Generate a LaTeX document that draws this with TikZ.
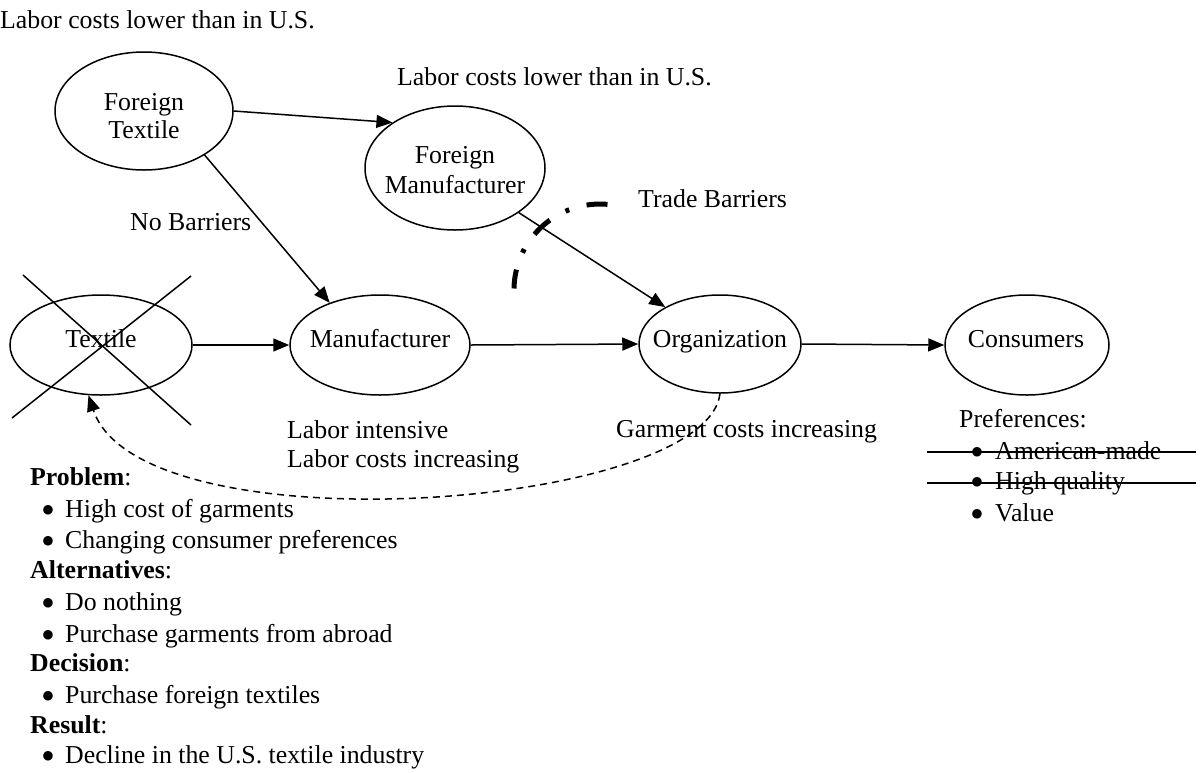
\documentclass[tikz,border=0pt]{standalone}
\usepackage{fontspec}
\setmainfont{Liberation Serif}
\newfontfamily\symfnt{DejaVu Sans}
\usetikzlibrary{arrows.meta,shapes.geometric}
\begin{document}
\begin{tikzpicture}[x=1pt,y=-1pt,
  every node/.style={font=\fontsize{25.8pt}{31pt}\selectfont},
  ell/.style={draw, ellipse, line width=1.5pt, inner sep=0pt},
  lbl/.style={inner sep=0pt, anchor=base},
  lblw/.style={inner sep=0pt, anchor=base west},
  bul/.style={inner sep=0pt, anchor=base, font=\symfnt\fontsize{12.5pt}{12.5pt}\selectfont},
  conn/.style={line width=1.5pt, -{Triangle[length=16pt,width=13pt]}},
  back/.style={line width=1.5pt, dash pattern=on 7pt off 5pt, -{Triangle[length=16pt,width=13pt]}},
  cross/.style={line width=1.5pt},
  barrier/.style={line width=5pt, dash pattern=on 21pt off 18pt on 4pt off 18pt},
  strike/.style={line width=1.5pt}]
\useasboundingbox (0,0) rectangle (1201,772);
\fill[white] (0,0) rectangle (1201,772);
\newcommand{\bulglyph}{\raisebox{3.8pt}{●}}

% ellipses
\node[ell, minimum width=178pt, minimum height=118pt] (ft) at (144,111) {};
\node[ell, minimum width=180pt, minimum height=124pt] (fm) at (455,168) {};
\node[ell, minimum width=182pt, minimum height=100pt] (tx) at (101,345) {};
\node[ell, minimum width=180pt, minimum height=100pt] (mf) at (380,345) {};
\node[ell, minimum width=162pt, minimum height=98pt] (org) at (720,344) {};
\node[ell, minimum width=164pt, minimum height=100pt] (cons) at (1027,345) {};

% ellipse texts
\node[lbl] (ftA) at (144,110) {Foreign};
\node[lbl] (ftB) at (144,138) {Textile};
\node[lbl] (fmA) at (455,163) {Foreign};
\node[lbl] (fmB) at (455,193) {Manufacturer};
\node[lbl] (txT) at (101,347) {Textile};
\node[lbl] (mfT) at (380,347) {Manufacturer};
\node[lbl] (orgT) at (720,347) {Organization};
\node[lbl] (consT) at (1026,347) {Consumers};

% cross over Textile
\draw[cross] (23,275) -- (191,425);
\draw[cross] (12,418) -- (191,276);

% connectors
\draw[conn] (ft.east) -- (fm.144);
\draw[conn] (ft.-36) -- (mf.140);
\draw[conn] (fm.-35) -- (org.146);
\draw[conn] (tx.east) -- (mf.west);
\draw[conn] (mf.east) -- (org.west);
\draw[conn] (org.east) -- (cons.west);
\draw[back] (org.south) .. controls (705,510) and (140,550) .. (tx.-104);

% trade barrier arc
\draw[barrier] (600,290) ++(275:86) arc[start angle=275, end angle=181, radius=86];

% labels
\node[lblw] (l1) at (0,28) {Labor costs lower than in U.S.};
\node[lblw] (l2) at (397,85) {Labor costs lower than in U.S.};
\node[lblw] (nb) at (130,230) {No Barriers};
\node[lblw] (tb) at (638,207) {Trade Barriers};
\node[lblw] (li) at (287,438) {Labor intensive};
\node[lblw] (lc) at (287,467) {Labor costs increasing};
\node[lblw] (gc) at (616,437) {Garment costs increasing};

% preferences
\node[lblw] (pr) at (959,427) {Preferences:};
\node[bul] (pb1) at (977,459) {\bulglyph};
\node[lblw] (p1) at (995,459) {American-made};
\node[bul] (pb2) at (977,489) {\bulglyph};
\node[lblw] (p2) at (995,489) {High quality};
\node[bul] (pb3) at (977,521) {\bulglyph};
\node[lblw] (p3) at (995,521) {Value};
\draw[strike] (927,452) -- (1196,452);
\draw[strike] (927,483) -- (1196,483);

% left list
\node[lblw] (h1) at (30,485) {\textbf{Problem}:};
\node[bul] (b1) at (48,517) {\bulglyph};
\node[lblw] (t1) at (65,517) {High cost of garments};
\node[bul] (b2) at (48,548) {\bulglyph};
\node[lblw] (t2) at (65,548) {Changing consumer preferences};
\node[lblw] (h2) at (30,578) {\textbf{Alternatives}:};
\node[bul] (b3) at (48,610) {\bulglyph};
\node[lblw] (t3) at (65,610) {Do nothing};
\node[bul] (b4) at (48,642) {\bulglyph};
\node[lblw] (t4) at (65,642) {Purchase garments from abroad};
\node[lblw] (h3) at (30,671) {\textbf{Decision}:};
\node[bul] (b5) at (48,703) {\bulglyph};
\node[lblw] (t5) at (65,703) {Purchase foreign textiles};
\node[lblw] (h4) at (30,733) {\textbf{Result}:};
\node[bul] (b6) at (48,763) {\bulglyph};
\node[lblw] (t6) at (65,763) {Decline in the U.S. textile industry};
\end{tikzpicture}
\end{document}
